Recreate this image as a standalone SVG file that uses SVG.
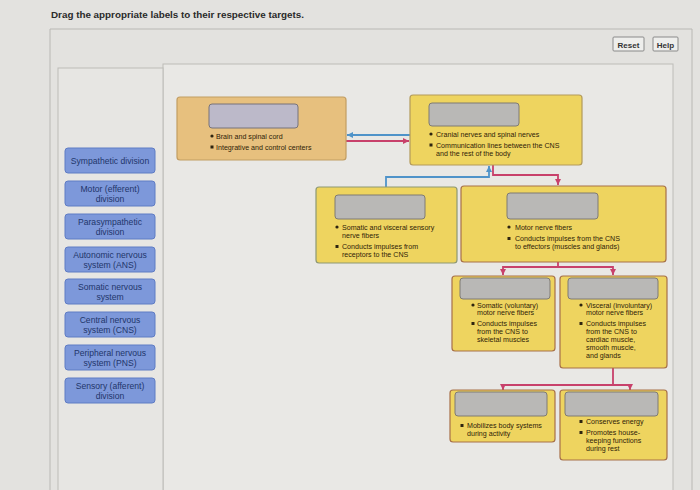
<svg xmlns="http://www.w3.org/2000/svg" width="700" height="490" viewBox="0 0 700 490">
<defs>
<style>
.frame{fill:none;stroke:#b9b8b4;stroke-width:1}
.lbl rect{fill:#7d98da;stroke:#5f7cc4;stroke-width:1}
.lbl text{font-family:"Liberation Sans",Arial,sans-serif;font-size:8.6px;fill:#22366a;text-anchor:middle}
.t{font-family:"Liberation Sans",Arial,sans-serif;font-size:7.1px;fill:#2e2208}
.slot{fill:#b9b8b6;stroke:#7e7b74;stroke-width:1}
.slotc{fill:#bcb9c9;stroke:#77737a;stroke-width:1}
.yel{fill:#eed45f;stroke:#b39a5a;stroke-width:1.2}
.yelg{fill:#eed45f;stroke:#8e9873;stroke-width:1.2}
.yelr{fill:#eed45f;stroke:#a77048;stroke-width:1.2}
.tan{fill:#e7c07e;stroke:#c29d62;stroke-width:1.2}
.blue{fill:none;stroke:#4f93c9;stroke-width:1.8}
.red{fill:none;stroke:#c8416b;stroke-width:1.8}
.btn rect{fill:#eeeeec;stroke:#8a8a8a;stroke-width:1}
.btn text{font-family:"Liberation Sans",Arial,sans-serif;font-size:8px;font-weight:bold;fill:#333;text-anchor:middle}
.bul{fill:#2e2410}
</style>
<marker id="ab" markerUnits="userSpaceOnUse" markerWidth="6" markerHeight="6" refX="6" refY="3" orient="auto"><path d="M0,0 L6,3 L0,6 z" fill="#4f93c9"/></marker>
<marker id="ar" markerUnits="userSpaceOnUse" markerWidth="6" markerHeight="6" refX="6" refY="3" orient="auto"><path d="M0,0 L6,3 L0,6 z" fill="#c8416b"/></marker>
</defs>
<rect width="700" height="490" fill="#e3e2df"/>
<text x="51" y="18" font-family="Liberation Sans,Arial,sans-serif" font-size="8.8" font-weight="bold" fill="#2a2a2a" textLength="253" lengthAdjust="spacingAndGlyphs">Drag the appropriate labels to their respective targets.</text>
<path class="frame" d="M50,29 H692 M50,29 V490 M692,29 V490"/>
<rect x="163" y="64" width="510" height="430" fill="#e9e8e5" stroke="#bdbcb8"/>
<rect x="58" y="68" width="105" height="426" fill="#e7e6e3" stroke="#bdbcb8"/>
<g class="btn" id="reset"><rect x="613" y="37" width="31" height="14" rx="1"/><text x="628.5" y="47.5">Reset</text></g>
<g class="btn" id="help"><rect x="653" y="37" width="25" height="14" rx="1"/><text x="665.5" y="47.5">Help</text></g>

<g id="labels">
<g class="lbl" id="lbl-sympathetic"><rect x="65" y="148" width="90" height="25" rx="3"/><text x="110" y="163.5">Sympathetic division</text></g>
<g class="lbl" id="lbl-motor"><rect x="65" y="181" width="90" height="25" rx="3"/><text x="110" y="191.5">Motor (efferent)</text><text x="110" y="201.5">division</text></g>
<g class="lbl" id="lbl-para"><rect x="65" y="214" width="90" height="25" rx="3"/><text x="110" y="224.5">Parasympathetic</text><text x="110" y="234.5">division</text></g>
<g class="lbl" id="lbl-ans"><rect x="65" y="247" width="90" height="25" rx="3"/><text x="110" y="257.5">Autonomic nervous</text><text x="110" y="267.5">system (ANS)</text></g>
<g class="lbl" id="lbl-sns"><rect x="65" y="279" width="90" height="25" rx="3"/><text x="110" y="289.5">Somatic nervous</text><text x="110" y="299.5">system</text></g>
<g class="lbl" id="lbl-cns"><rect x="65" y="312" width="90" height="25" rx="3"/><text x="110" y="322.5">Central nervous</text><text x="110" y="332.5">system (CNS)</text></g>
<g class="lbl" id="lbl-pns"><rect x="65" y="345" width="90" height="25" rx="3"/><text x="110" y="355.5">Peripheral nervous</text><text x="110" y="365.5">system (PNS)</text></g>
<g class="lbl" id="lbl-sensory"><rect x="65" y="378" width="90" height="25" rx="3"/><text x="110" y="388.5">Sensory (afferent)</text><text x="110" y="398.5">division</text></g>
</g>

<g id="connectors">
<path class="blue" d="M410,135 H347" marker-end="url(#ab)"/>
<path class="red" d="M346,141 H409" marker-end="url(#ar)"/>
<path class="blue" d="M386,187 V177 H489 V166" marker-end="url(#ab)"/>
<path class="red" d="M493,165 V175 H558 V185" marker-end="url(#ar)"/>
<path class="red" d="M558,262 V267 H503 V275" marker-end="url(#ar)"/>
<path class="red" d="M558,267 H613 V275" marker-end="url(#ar)"/>
<path class="red" d="M613,368 V385 H503 V390" marker-end="url(#ar)"/>
<path class="red" d="M613,385 H630 V390" marker-end="url(#ar)"/>
</g>

<g id="node-cns">
<rect class="tan" x="177" y="97" width="169" height="63" rx="3"/>
<rect class="slotc" x="209" y="104" width="89" height="24" rx="3"/>
<circle class="bul" cx="212" cy="136" r="1.6"/><text class="t" x="216" y="138.5">Brain and spinal cord</text>
<rect class="bul" x="210.5" y="145.5" width="3" height="3"/><text class="t" x="216" y="149.5">Integrative and control centers</text>
</g>

<g id="node-pns">
<rect class="yel" x="410" y="95" width="172" height="70" rx="3"/>
<rect class="slot" x="429" y="103" width="90" height="23" rx="3"/>
<circle class="bul" cx="431" cy="134" r="1.6"/><text class="t" x="436" y="136.5">Cranial nerves and spinal nerves</text>
<rect class="bul" x="429.5" y="143.5" width="3" height="3"/><text class="t" x="436" y="147.5">Communication lines between the CNS</text>
<text class="t" x="436" y="155.5">and the rest of the body</text>
</g>

<g id="node-sensory">
<rect class="yelg" x="316" y="187" width="141" height="76" rx="3"/>
<rect class="slot" x="335" y="195" width="90" height="24" rx="3"/>
<circle class="bul" cx="337" cy="227" r="1.6"/><text class="t" x="342" y="229.5">Somatic and visceral sensory</text>
<text class="t" x="342" y="237.5">nerve fibers</text>
<rect class="bul" x="335.5" y="245" width="3" height="3"/><text class="t" x="342" y="249">Conducts impulses from</text>
<text class="t" x="342" y="257">receptors to the CNS</text>
</g>

<g id="node-motor">
<rect class="yelr" x="461" y="186" width="205" height="76" rx="3"/>
<rect class="slot" x="507" y="193" width="91" height="26" rx="3"/>
<circle class="bul" cx="509" cy="227" r="1.6"/><text class="t" x="515" y="229.5">Motor nerve fibers</text>
<rect class="bul" x="507.5" y="237" width="3" height="3"/><text class="t" x="515" y="241">Conducts impulses from the CNS</text>
<text class="t" x="515" y="248.5">to effectors (muscles and glands)</text>
</g>

<g id="node-somatic">
<rect class="yelr" x="452" y="276" width="103" height="75" rx="3"/>
<rect class="slot" x="460" y="278" width="90" height="21" rx="3"/>
<circle class="bul" cx="473" cy="305" r="1.6"/><text class="t" x="477" y="307.5">Somatic (voluntary)</text>
<text class="t" x="477" y="315">motor nerve fibers</text>
<rect class="bul" x="471.5" y="322" width="3" height="3"/><text class="t" x="477" y="326">Conducts impulses</text>
<text class="t" x="477" y="334">from the CNS to</text>
<text class="t" x="477" y="342">skeletal muscles</text>
</g>

<g id="node-autonomic">
<rect class="yelr" x="560" y="276" width="107" height="92" rx="3"/>
<rect class="slot" x="568" y="278" width="90" height="21" rx="3"/>
<circle class="bul" cx="581" cy="305" r="1.6"/><text class="t" x="586" y="307.5">Visceral (involuntary)</text>
<text class="t" x="586" y="315">motor nerve fibers</text>
<rect class="bul" x="579.5" y="322" width="3" height="3"/><text class="t" x="586" y="326">Conducts impulses</text>
<text class="t" x="586" y="334">from the CNS to</text>
<text class="t" x="586" y="342">cardiac muscle,</text>
<text class="t" x="586" y="350">smooth muscle,</text>
<text class="t" x="586" y="358">and glands</text>
</g>

<g id="node-sympathetic">
<rect class="yelr" x="450" y="390" width="105" height="52" rx="3"/>
<rect class="slot" x="455" y="392" width="92" height="24" rx="3"/>
<rect class="bul" x="460.5" y="424" width="3" height="3"/><text class="t" x="467" y="428">Mobilizes body systems</text>
<text class="t" x="467" y="436">during activity</text>
</g>

<g id="node-parasympathetic">
<rect class="yelr" x="560" y="390" width="107" height="70" rx="3"/>
<rect class="slot" x="565" y="392" width="93" height="24" rx="3"/>
<rect class="bul" x="579.5" y="420" width="3" height="3"/><text class="t" x="586" y="424">Conserves energy</text>
<rect class="bul" x="579.5" y="431" width="3" height="3"/><text class="t" x="586" y="435">Promotes house-</text>
<text class="t" x="586" y="443">keeping functions</text>
<text class="t" x="586" y="451">during rest</text>
</g>
</svg>
